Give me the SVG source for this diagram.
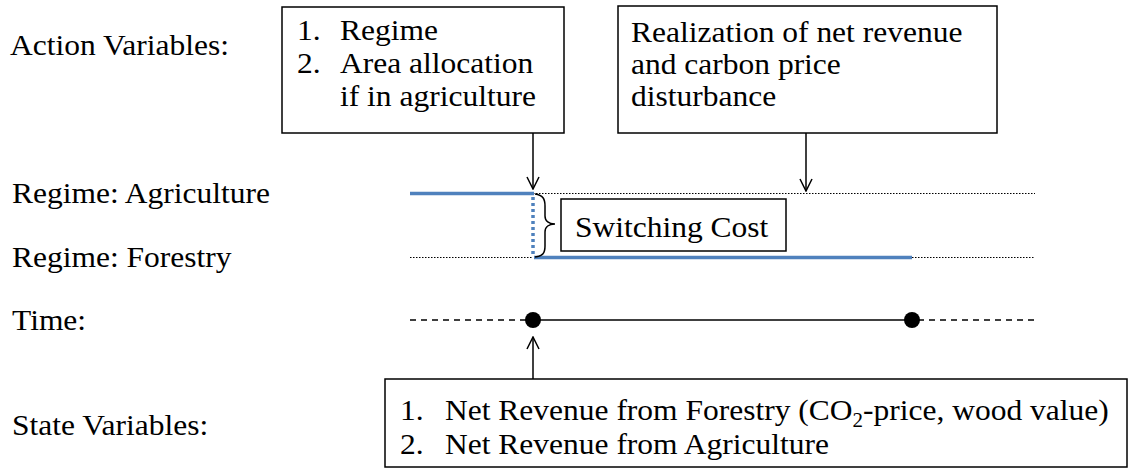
<svg xmlns="http://www.w3.org/2000/svg" width="1128" height="470" viewBox="0 0 1128 470">
  <style>
    text { font-family: "Liberation Serif", "Times New Roman", serif; font-size: 30px; fill: #000; }
    .box { fill: #fff; stroke: #000; stroke-width: 1.5; }
    .arrow { stroke: #000; stroke-width: 1.5; fill: none; marker-end: url(#vhead); }
    .regime { stroke: #4F81BD; stroke-width: 3.5; fill: none; }
    .guide { stroke: #000; stroke-width: 1.2; stroke-dasharray: 1.5 1.5; fill: none; }
    .time { stroke: #000; stroke-width: 1.5; fill: none; }
    .time-dash { stroke: #000; stroke-width: 1.5; stroke-dasharray: 6 5; fill: none; }
  </style>
  <defs>
    <!-- open V arrowhead, tip at the path end -->
    <marker id="vhead" viewBox="0 0 14 14" refX="13" refY="7" markerWidth="14" markerHeight="14" markerUnits="userSpaceOnUse" orient="auto">
      <polyline points="1,1 13,7 1,13" fill="none" stroke="#000" stroke-width="1.5"/>
    </marker>
  </defs>

  <!-- row labels (text is set slightly wide: scale 1.05 horizontally) -->
  <g id="labels">
    <text transform="translate(10 55) scale(1.05 1)">Action Variables:</text>
    <text transform="translate(12 203) scale(1.05 1)">Regime: Agriculture</text>
    <text transform="translate(12 267) scale(1.05 1)">Regime: Forestry</text>
    <text transform="translate(12 330) scale(1.05 1)">Time:</text>
    <text transform="translate(12 435) scale(1.05 1)">State Variables:</text>
  </g>

  <!-- connectors and timeline -->
  <g id="connectors">
    <!-- regime guides -->
    <line class="guide" x1="533" y1="193.5" x2="1035" y2="193.5"/>
    <line class="guide" x1="410" y1="257.5" x2="533" y2="257.5"/>
    <line class="guide" x1="912" y1="257.5" x2="1035" y2="257.5"/>
    <!-- regime path -->
    <line class="regime" x1="410" y1="193.5" x2="534" y2="193.5"/>
    <line x1="533" y1="197" x2="533" y2="256" stroke="#4F81BD" stroke-width="3.5" stroke-dasharray="3 3"/>
    <line class="regime" x1="534" y1="257.5" x2="912" y2="257.5"/>
    <!-- switching cost brace -->
    <path d="M535,194 C543,195 545,199 545,206 L545,216 C545,221 549,224 555,224 C549,224 545,227 545,232 L545,246 C545,253 543,256 535,257" fill="none" stroke="#000" stroke-width="1.5"/>
    <!-- time axis -->
    <line class="time-dash" x1="410" y1="320" x2="527" y2="320"/>
    <line class="time" x1="533" y1="320" x2="912" y2="320"/>
    <line class="time-dash" x1="918" y1="320" x2="1037" y2="320"/>
    <circle cx="533" cy="320" r="8" fill="#000"/>
    <circle cx="912" cy="320" r="8" fill="#000"/>
    <!-- arrows -->
    <path class="arrow" d="M533,133 L533,189"/>
    <path class="arrow" d="M806,133 L806,191"/>
    <path class="arrow" d="M533,380 L533,337"/>
  </g>

  <g id="action-box">
    <rect class="box" x="282" y="7" width="282" height="126"/>
    <text transform="translate(297 40) scale(1.05 1)">1.</text>
    <text transform="translate(340 40) scale(1.05 1)">Regime</text>
    <text transform="translate(297 73) scale(1.05 1)">2.</text>
    <text transform="translate(340 73) scale(1.05 1)">Area allocation</text>
    <text transform="translate(340 106) scale(1.05 1)">if in agriculture</text>
  </g>

  <g id="realization-box">
    <rect class="box" x="618" y="6" width="379" height="127"/>
    <text transform="translate(631 42) scale(1.05 1)">Realization of net revenue</text>
    <text transform="translate(631 74) scale(1.05 1)">and carbon price</text>
    <text transform="translate(631 106) scale(1.05 1)">disturbance</text>
  </g>

  <g id="switching-cost">
    <rect class="box" x="561" y="199" width="225" height="52"/>
    <text transform="translate(575 237) scale(1.05 1)">Switching Cost</text>
  </g>

  <g id="state-box">
    <rect class="box" x="385" y="379" width="742" height="88"/>
    <text transform="translate(400 420) scale(1.05 1)">1.</text>
    <text transform="translate(445 420) scale(1.05 1)">Net Revenue from Forestry (CO<tspan font-size="20" dy="7">2</tspan><tspan dy="-7">-price, wood value)</tspan></text>
    <text transform="translate(400 454) scale(1.05 1)">2.</text>
    <text transform="translate(445 454) scale(1.05 1)">Net Revenue from Agriculture</text>
  </g>
</svg>
